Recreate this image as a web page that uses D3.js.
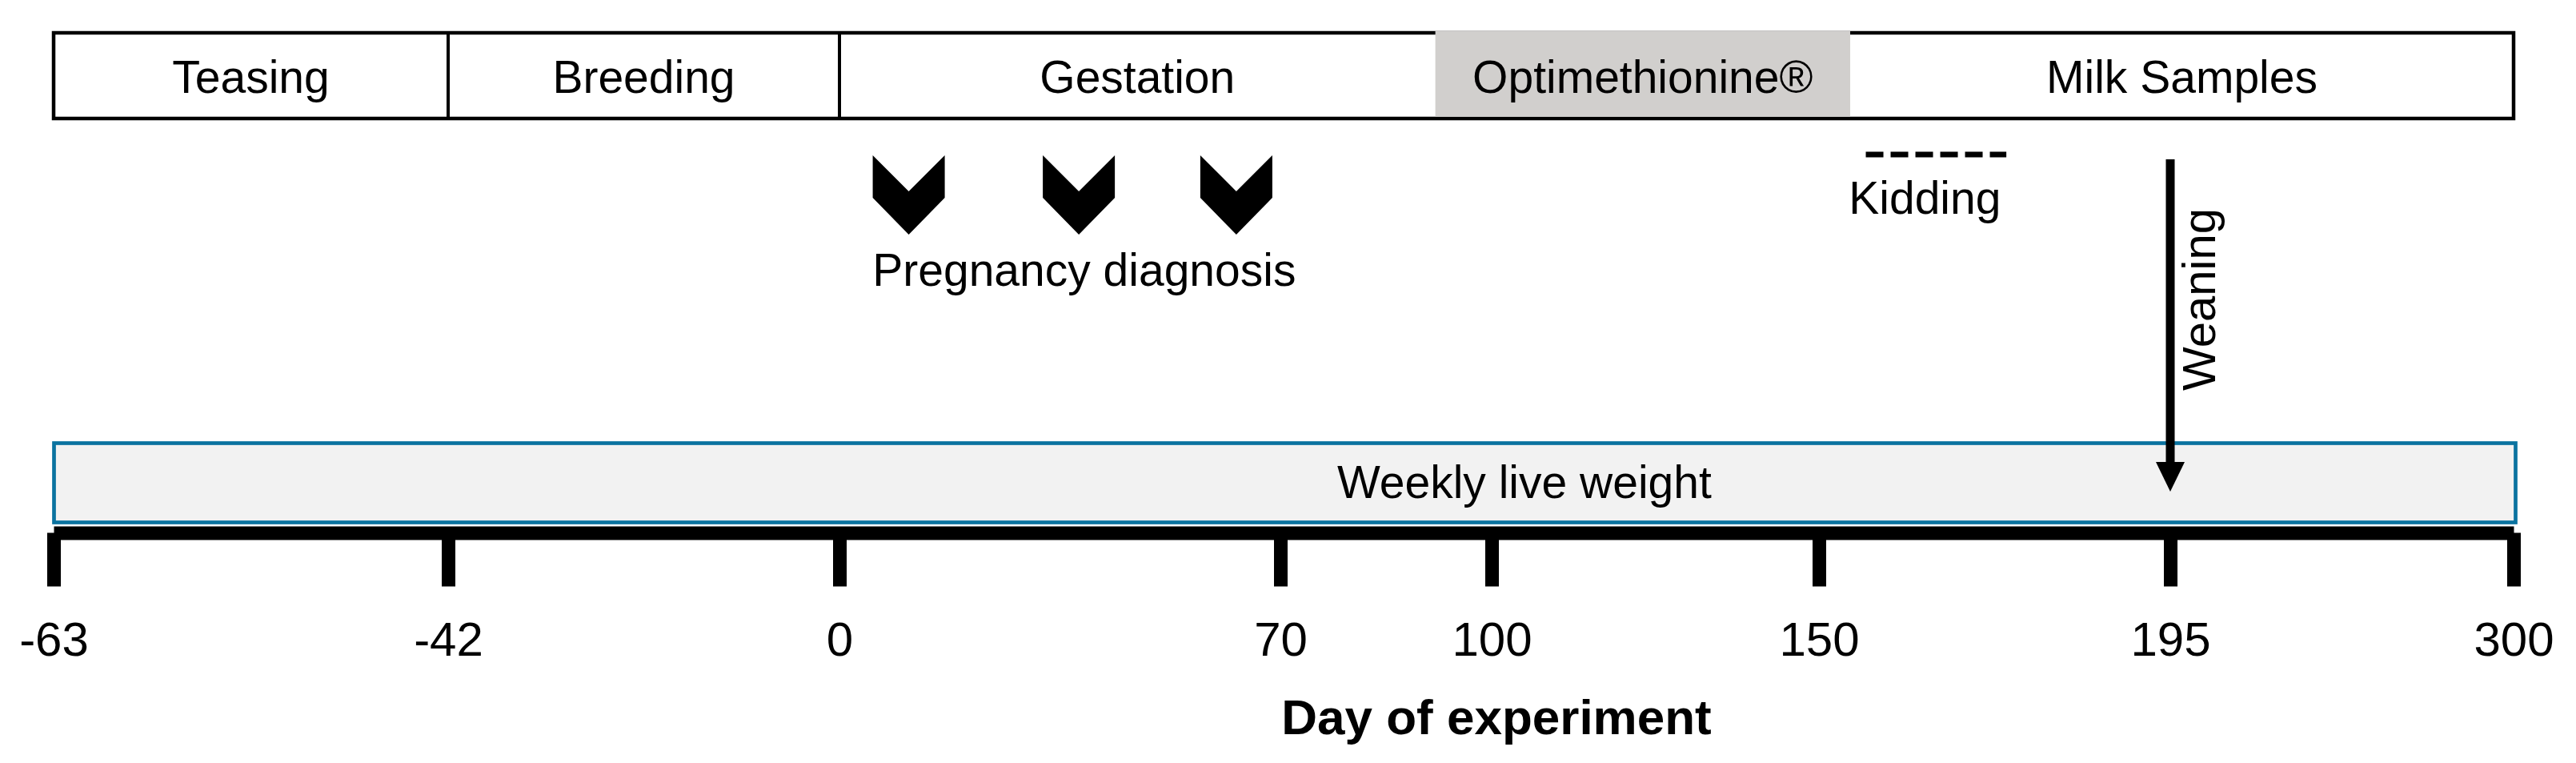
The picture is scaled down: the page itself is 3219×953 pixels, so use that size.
<!DOCTYPE html>
<html>
<head>
<meta charset="utf-8">
<script src="https://cdn.jsdelivr.net/npm/d3@7"></script>
<style>
  body { margin: 0; background: #fff; }
  text { font-family: "Liberation Sans", Arial, sans-serif; }
</style>
</head>
<body>
<svg></svg>
<script>
// Experiment phases (days of experiment)
const phases = ["Teasing", "Breeding", "Gestation", "Optimethionine®", "Milk Samples"];
const phaseStart = [-63, -42, 0, 92, 154];
const phaseEnd = [-42, 0, 92, 154, 300];
const highlightedPhase = "Optimethionine®";
const dividerDays = [-42, 0];

// Events
const diagnosisDays = [11, 38, 63];
const kiddingDays = [156, 174];
const weaningDay = 195;
const weightDays = [-63, 300];
const weightLabelDay = 105;

// Axis ticks
const tickDays = [-63, -42, 0, 70, 100, 150, 195, 300];
const tickLabels = ["-63", "-42", "0", "70", "100", "150", "195", "300"];

// Layout
const width = 3219;
const height = 953;
// the timeline is schematic, not to scale: pixel stop for each tick
const axisStops = [67, 560, 1049, 1600, 1864, 2273, 2712, 3141];
const frameTop = 41, frameHeight = 107;
const axisY = 665.5;

const x = d3.scaleLinear()
    .domain(tickDays)
    .range(axisStops);

const svg = d3.select("svg")
    .attr("width", width)
    .attr("height", height)
    .attr("viewBox", [0, 0, width, height]);

// Phase frame
svg.append("rect")
    .attr("x", x(phaseStart[0]))
    .attr("y", frameTop)
    .attr("width", x(phaseEnd[phaseEnd.length - 1]) - x(phaseStart[0]))
    .attr("height", frameHeight)
    .attr("fill", "#fff")
    .attr("stroke", "#000")
    .attr("stroke-width", 4.5);

svg.append("g")
  .selectAll("line")
  .data(dividerDays)
  .join("line")
    .attr("x1", d => x(d))
    .attr("x2", d => x(d))
    .attr("y1", frameTop)
    .attr("y2", frameTop + frameHeight)
    .attr("stroke", "#000")
    .attr("stroke-width", 4);

const phaseData = phases.map((name, i) => ({name, start: phaseStart[i], end: phaseEnd[i]}));

// grey block covers the top border but not the bottom one
svg.append("g")
  .selectAll("rect")
  .data(phaseData.filter(d => d.name === highlightedPhase))
  .join("rect")
    .attr("x", d => x(d.start))
    .attr("y", frameTop - 2.25)
    .attr("width", d => x(d.end) - x(d.start))
    .attr("height", frameHeight)
    .attr("fill", "#d1cfcd");

svg.append("g")
    .attr("font-size", 57)
    .attr("text-anchor", "middle")
  .selectAll("text")
  .data(phaseData)
  .join("text")
    .attr("x", d => (x(d.start) + x(d.end)) / 2)
    .attr("y", 116)
    .text(d => d.name);

// Pregnancy diagnosis chevrons
const hw = 45;
svg.append("g")
  .selectAll("path")
  .data(diagnosisDays)
  .join("path")
    .attr("d", d => {
      const cx = x(d);
      return `M${cx - hw},194 L${cx},239 L${cx + hw},194 L${cx + hw},247 L${cx},293 L${cx - hw},247 Z`;
    })
    .attr("fill", "#000");

svg.append("text")
    .attr("x", x(d3.mean(diagnosisDays)) + 12)
    .attr("y", 357)
    .attr("font-size", 57)
    .attr("text-anchor", "middle")
    .text("Pregnancy diagnosis");

// Kidding
svg.append("line")
    .attr("x1", x(kiddingDays[0]))
    .attr("x2", x(kiddingDays[1]))
    .attr("y1", 193)
    .attr("y2", 193)
    .attr("stroke", "#000")
    .attr("stroke-width", 7)
    .attr("stroke-dasharray", "22,9");

svg.append("text")
    .attr("x", (x(kiddingDays[0]) + x(kiddingDays[1])) / 2 - 14)
    .attr("y", 267)
    .attr("font-size", 57)
    .attr("text-anchor", "middle")
    .text("Kidding");

// Weekly live weight band
svg.append("rect")
    .attr("x", x(weightDays[0]) + 0.5)
    .attr("y", 553.5)
    .attr("width", x(weightDays[1]) - x(weightDays[0]) + 2)
    .attr("height", 99)
    .attr("fill", "#f2f2f2")
    .attr("stroke", "#0b73a0")
    .attr("stroke-width", 4.7);

svg.append("text")
    .attr("x", x(weightLabelDay))
    .attr("y", 622)
    .attr("font-size", 57)
    .attr("text-anchor", "middle")
    .text("Weekly live weight");

// Weaning arrow
const wx = x(weaningDay);
svg.append("line")
    .attr("x1", wx)
    .attr("x2", wx)
    .attr("y1", 199)
    .attr("y2", 582)
    .attr("stroke", "#000")
    .attr("stroke-width", 11);

svg.append("path")
    .attr("d", `M${wx - 18},577 L${wx + 18},577 L${wx},614 Z`)
    .attr("fill", "#000");

svg.append("text")
    .attr("transform", `translate(${wx + 56},374) rotate(-90)`)
    .attr("font-size", 58)
    .attr("text-anchor", "middle")
    .text("Weaning");

// Day axis
svg.append("g")
    .attr("transform", `translate(0,${axisY})`)
    .call(d3.axisBottom(x)
        .tickValues(tickDays)
        .tickFormat((d, i) => tickLabels[i])
        .tickSize(67)
        .tickSizeOuter(0))
    .call(g => g.select(".domain")
        .attr("stroke-width", 17))
    .call(g => g.selectAll(".tick line")
        .attr("stroke-width", 17))
    .call(g => g.selectAll(".tick text")
        .attr("y", 819 - axisY)
        .attr("dy", 0)
        .attr("fill", "#000")
        .attr("font-size", 60)
        .attr("font-family", "Liberation Sans, Arial, sans-serif"));

svg.append("text")
    .attr("x", x(100) + 6)
    .attr("y", 917)
    .attr("font-size", 62)
    .attr("font-weight", "bold")
    .attr("text-anchor", "middle")
    .text("Day of experiment");
</script>
</body>
</html>
